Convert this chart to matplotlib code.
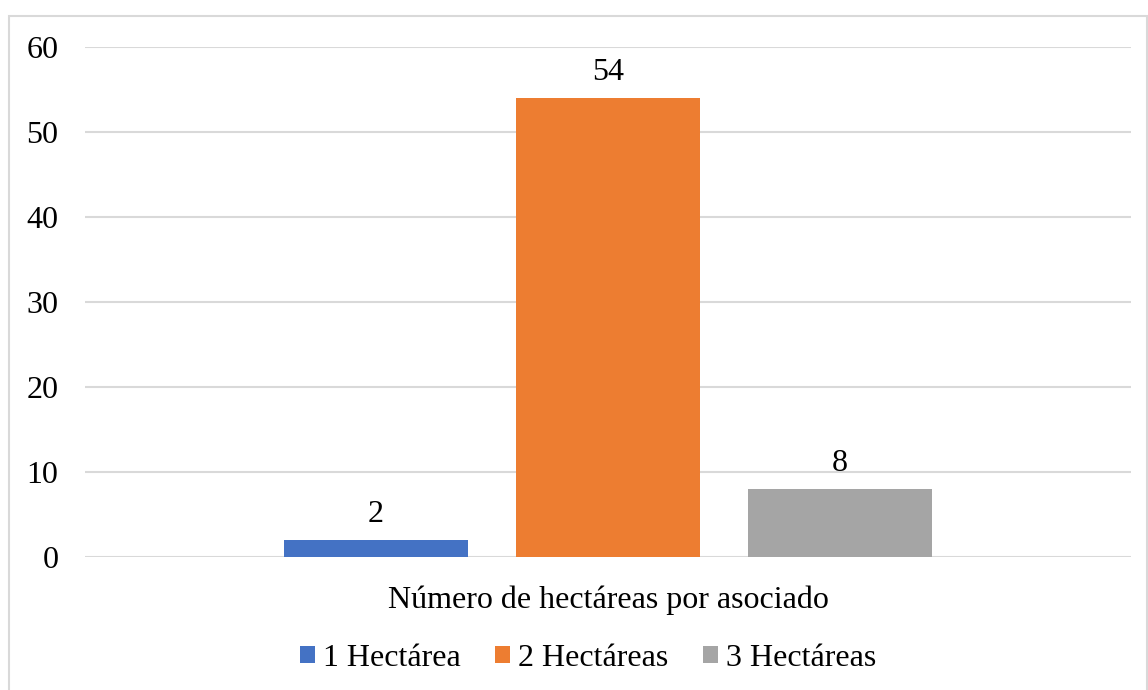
import matplotlib.pyplot as plt
from matplotlib.patches import Rectangle

categoria = 'Número de hectáreas por asociado'
series = ['1 Hectárea', '2 Hectáreas', '3 Hectáreas']
valores = [2, 54, 8]
colores = ['#4472C4', '#ED7D31', '#A5A5A5']
yticks = [0, 10, 20, 30, 40, 50, 60]

plt.rcParams['font.family'] = ['Liberation Serif', 'DejaVu Serif']
fs = 23

W, H = 1148, 690
fig = plt.figure(figsize=(W / 100, H / 100), dpi=100)
ax = fig.add_axes([85 / W, 133 / H, (1131 - 85) / W, (557 - 47) / H])

posiciones = list(range(len(valores)))
barras = ax.bar(posiciones, valores, width=0.79, color=colores, label=series, zorder=3)
for b, v in zip(barras, valores):
    ax.annotate(str(v), (b.get_x() + b.get_width() / 2, v), xytext=(0, 8),
                textcoords='offset points', ha='center', va='bottom', fontsize=fs)

ax.set_xlim(-1.255, 3.255)
ax.set_ylim(0, 60)
ax.set_yticks(yticks)
ax.set_xticks([])
ax.tick_params(axis='y', length=0, pad=19, labelsize=fs)
ax.grid(axis='y', color='#D9D9D9', linewidth=1.5, zorder=0)
for s in ax.spines.values():
    s.set_visible(False)

fig.text(608 / W, 1 - 600 / H, categoria, ha='center', va='center', fontsize=fs)

ax.legend(handles=barras, labels=series, loc='center', bbox_to_anchor=(588 / W, 1 - 658 / H),
          bbox_transform=fig.transFigure, ncol=3, frameon=False, fontsize=fs,
          handlelength=0.45, handleheight=0.45, handletextpad=0.25, columnspacing=1.1)

# marco exterior del gráfico
fig.patches.append(Rectangle((8.5, -10), 1138, 690 - 15.5 + 10, transform=None,
                             fill=False, edgecolor='#D9D9D9', linewidth=1.5))

fig.savefig('out.png', dpi=100, facecolor='white')
